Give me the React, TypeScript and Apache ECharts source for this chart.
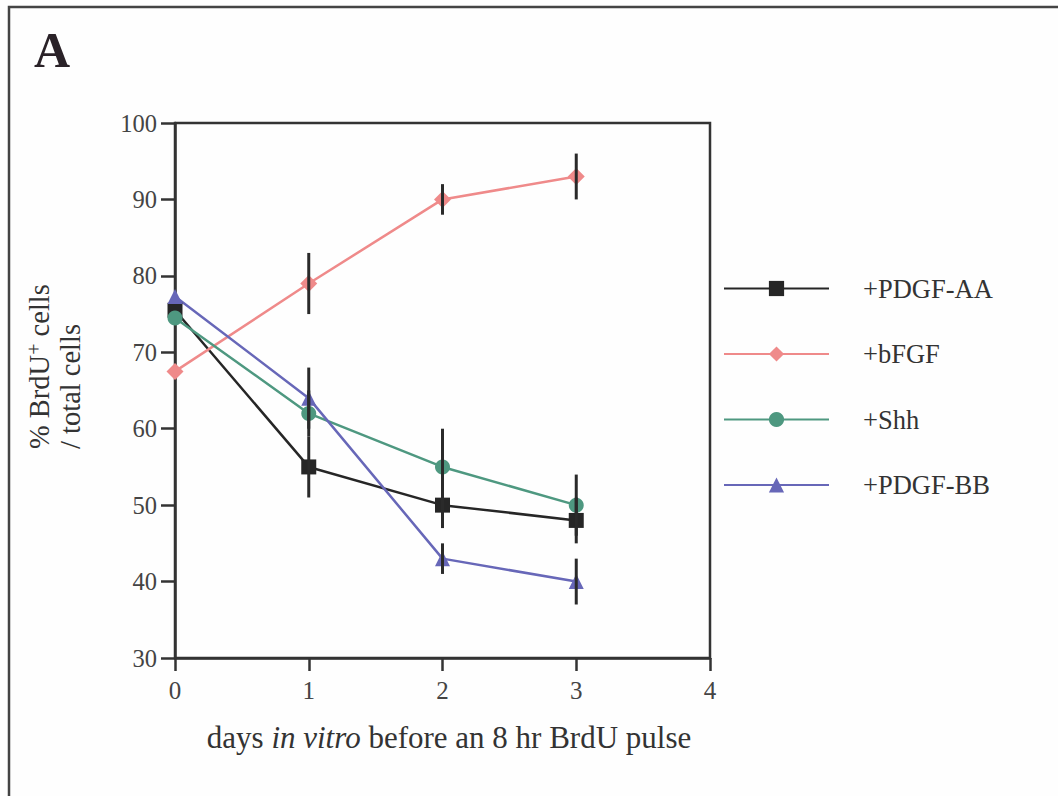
import React, { useEffect, useRef } from "react";
import * as echarts from "echarts";

const days = [0, 1, 2, 3];
const seriesNames = ["+PDGF-AA", "+bFGF", "+Shh", "+PDGF-BB"];
const pdgfAA = [75.5, 55, 50, 48];
const pdgfAAErr = [0, 4, 3, 3];
const bfgf = [67.5, 79, 90, 93];
const bfgfErr = [0, 4, 2, 3];
const shh = [74.5, 62, 55, 50];
const shhErr = [0, 3, 5, 4];
const pdgfBB = [77.3, 64, 43, 40];
const pdgfBBErr = [0, 4, 2, 3];
const yTicks = { min: 30, max: 100, interval: 10 };
const xTicks = { min: 0, max: 4, interval: 1 };

const FONT = "'Liberation Serif', 'Times New Roman', serif";

export default function App() {
  const ref = useRef<HTMLDivElement>(null);
  useEffect(() => {
    if (!ref.current) return;
    const chart = echarts.init(ref.current, undefined, { renderer: "svg" });
    const colors = ["#262626", "#ef8a8a", "#4e9880", "#6767b8"];
    const symbols = ["rect", "diamond", "circle", "triangle"];
    const vals = [pdgfAA, bfgf, shh, pdgfBB];
    const errs = [pdgfAAErr, bfgfErr, shhErr, pdgfBBErr];

    const lineSeries = seriesNames.map((name, i) => ({
      name,
      type: "line",
      data: days.map((d, j) => [d, vals[i][j]]),
      symbol: symbols[i],
      symbolSize: i === 1 ? 17 : 15,
      lineStyle: { color: colors[i], width: 2.5 },
      itemStyle: { color: colors[i] },
      z: 2,
    }));

    const errData: number[][] = [];
    vals.forEach((v, i) => {
      days.forEach((d, j) => {
        if (errs[i][j] > 0) errData.push([d, v[j], errs[i][j]]);
      });
    });

    const errSeries = {
      type: "custom",
      data: errData,
      z: 3,
      silent: true,
      renderItem: (params: any, api: any) => {
        const x = api.value(0);
        const y = api.value(1);
        const e = api.value(2);
        const p1 = api.coord([x, y - e]);
        const p2 = api.coord([x, y + e]);
        return {
          type: "line",
          shape: { x1: p1[0], y1: p1[1], x2: p2[0], y2: p2[1] },
          style: { stroke: "#2a2a2a", lineWidth: 3 },
        };
      },
    };

    chart.setOption({
      animation: false,
      backgroundColor: "#fefefe",
      textStyle: { fontFamily: FONT },
      grid: {
        left: 175,
        top: 123,
        width: 535,
        height: 535,
        show: true,
        borderColor: "#333",
        borderWidth: 2.5,
      },
      legend: {
        orient: "vertical",
        left: 723,
        top: 275,
        padding: 0,
        itemWidth: 105,
        itemHeight: 19,
        itemGap: 38.5,
        data: seriesNames,
        textStyle: {
          fontFamily: FONT,
          fontSize: 26.5,
          lineHeight: 26,
          color: "#333",
          padding: [0, 0, 0, 29],
        },
      },
      xAxis: {
        type: "value",
        min: xTicks.min,
        max: xTicks.max,
        interval: xTicks.interval,
        splitLine: { show: false },
        axisLine: { lineStyle: { color: "#333", width: 2.5 } },
        axisTick: { length: 13, lineStyle: { color: "#333", width: 2.5 } },
        axisLabel: { fontFamily: FONT, fontSize: 25, color: "#444", margin: 20 },
        name: "{n|days }{i|in vitro}{n| before an 8 hr BrdU pulse}",
        nameLocation: "middle",
        nameGap: 64,
        nameTextStyle: {
          padding: [0, 0, 0, 13],
          rich: {
            n: { fontFamily: FONT, fontSize: 31, color: "#333" },
            i: { fontFamily: FONT, fontSize: 31, color: "#333", fontStyle: "italic" },
          },
        },
      },
      yAxis: {
        type: "value",
        min: yTicks.min,
        max: yTicks.max,
        interval: yTicks.interval,
        splitLine: { show: false },
        axisLine: { lineStyle: { color: "#333", width: 2.5 } },
        axisTick: { length: 14, lineStyle: { color: "#333", width: 2.5 } },
        axisLabel: { fontFamily: FONT, fontSize: 24.5, color: "#444", margin: 18 },
      },
      graphic: [
        {
          type: "rect",
          shape: { x: 9, y: 7, width: 1200, height: 900 },
          style: { fill: "none", stroke: "#444", lineWidth: 2.5 },
          silent: true,
        },
        {
          type: "text",
          x: 34,
          y: 25,
          style: {
            text: "A",
            font: `bold 50px ${FONT}`,
            fill: "#2a2228",
          },
        },
        {
          type: "text",
          x: 24,
          y: 449,
          rotation: Math.PI / 2,
          style: {
            text: "{a|% BrdU}{s|+}{a| cells}\n{a|/ total cells}",
            align: "left",
            verticalAlign: "top",
            rich: {
              a: { fontFamily: FONT, fontSize: 28.5, fill: "#333", lineHeight: 31 },
              s: { fontFamily: FONT, fontSize: 20, fill: "#333", verticalAlign: "top", lineHeight: 31, padding: [0, 0, 10, 0] },
            },
          },
        },
      ],
      series: [...lineSeries, errSeries],
    });
    return () => chart.dispose();
  }, []);
  return (
    <div
      ref={ref}
      style={{ position: "absolute", left: 0, top: 0, width: 1058, height: 796 }}
    />
  );
}
